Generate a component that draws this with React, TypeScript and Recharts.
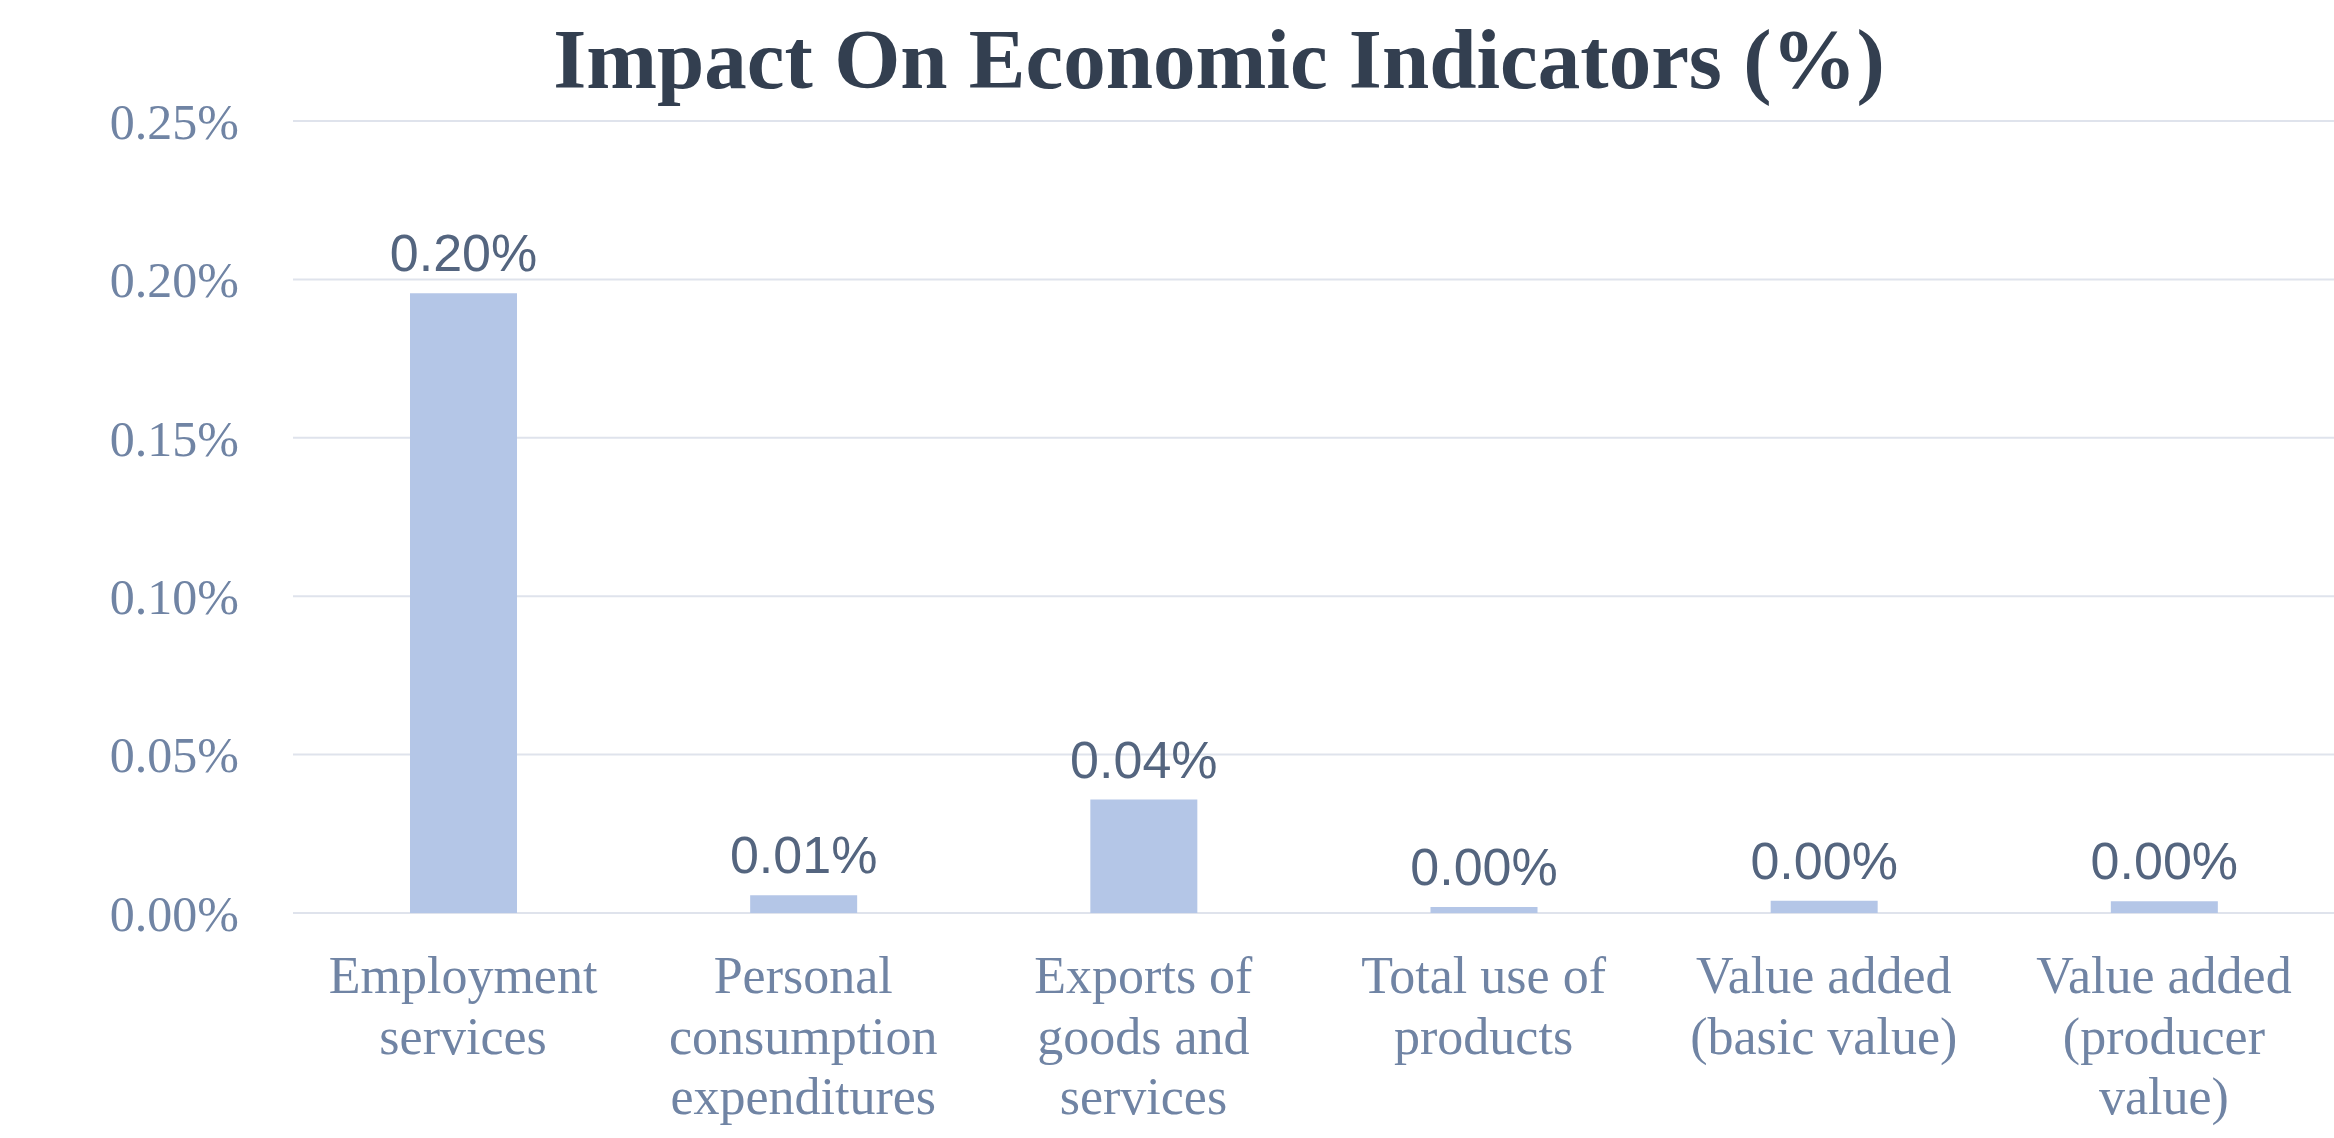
import { BarChart, Bar, XAxis, YAxis, CartesianGrid, LabelList } from 'recharts';

const categories = [
  'Employment\nservices',
  'Personal\nconsumption\nexpenditures',
  'Exports of\ngoods and\nservices',
  'Total use of\nproducts',
  'Value added\n(basic value)',
  'Value added\n(producer\nvalue)'
];

// impact in percent
const impact = [0.1956, 0.0056, 0.0358, 0.0019, 0.0039, 0.0037];

const yTicks = [0, 0.05, 0.1, 0.15, 0.2, 0.25];

const chartData = categories.map((name, i) => ({ name, impact: impact[i] }));

const SERIF = '"Liberation Serif", "Times New Roman", serif';
const SANS = '"Liberation Sans", Arial, sans-serif';

function CategoryTick(props: any) {
  const { x, y, payload } = props;
  const lines: string[] = String(payload.value).split('\n');
  return (
    <text x={x} y={y} textAnchor="middle" fill="#7084a4" fontFamily={SERIF} fontSize={52}>
      {lines.map((line, i) => (
        <tspan key={i} x={x} dy={i === 0 ? 80 : 60.5}>
          {line}
        </tspan>
      ))}
    </text>
  );
}

export default function App() {
  return (
    <div style={{ position: 'absolute', left: 0, top: 0, width: 2334, height: 1138, background: '#fff' }}>
      <div
        style={{
          position: 'absolute',
          left: 1219,
          top: 17,
          transform: 'translateX(-50%)',
          whiteSpace: 'nowrap',
          fontFamily: SERIF,
          fontWeight: 'bold',
          fontSize: 85,
          lineHeight: 1,
          color: '#333f50'
        }}
      >
        Impact On Economic Indicators (%)
      </div>
      <BarChart
        width={2334}
        height={1138}
        data={chartData}
        margin={{ top: 121, right: 0, bottom: 0, left: 0 }}
      >
        <CartesianGrid vertical={false} stroke="#dfe3ec" strokeWidth={2} />
        <XAxis
          dataKey="name"
          axisLine={false}
          tickLine={false}
          tickSize={0}
          tickMargin={0}
          height={225}
          interval={0}
          tick={<CategoryTick />}
        />
        <YAxis
          width={293}
          domain={[0, 0.25]}
          ticks={yTicks}
          axisLine={false}
          tickLine={false}
          tickSize={0}
          tickMargin={54}
          tickFormatter={(v: number) => `${v.toFixed(2)}%`}
          tick={{ fill: '#7084a4', fontFamily: SERIF, fontSize: 50 }}
        />
        <Bar dataKey="impact" fill="#b4c6e7" barSize={107} isAnimationActive={false}>
          <LabelList
            dataKey="impact"
            position="top"
            offset={22}
            formatter={(v: any) => `${Number(v).toFixed(2)}%`}
            fill="#54657f"
            fontFamily={SANS}
            fontSize={52}
          />
        </Bar>
      </BarChart>
    </div>
  );
}
